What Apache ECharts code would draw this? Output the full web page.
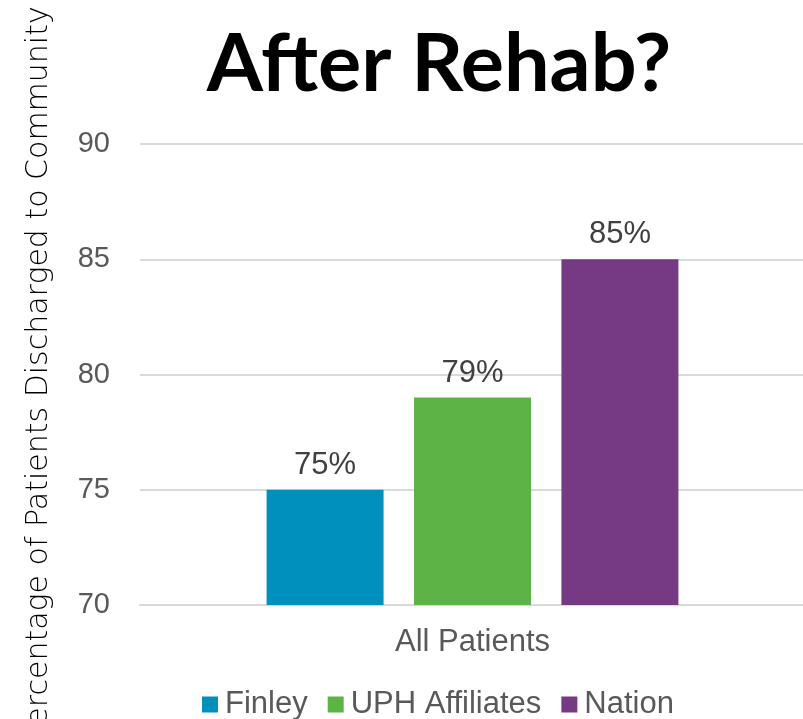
<!DOCTYPE html>
<html>
<head>
    <meta charset="utf-8">
    <title>After Rehab?</title>
    <script src="https://cdn.jsdelivr.net/npm/echarts@6/dist/echarts.min.js"></script>
    <style>
        html, body { margin: 0; padding: 0; background: #fff; }
        #chart1 { width: 803px; height: 719px; }
    </style>
</head>
<body>
<div id="chart1"></div>
<script type="text/javascript">
    // data
    var categories = ['All Patients'];
    var seriesNames = ['Finley', 'UPH Affiliates', 'Nation'];
    var finley = [75];
    var uph = [79];
    var nation = [85];
    var colors = ['#0090bd', '#5db346', '#753a83'];

    var myChart = echarts.init(document.getElementById('chart1'));

    var labelStyle = {
        show: true,
        position: 'top',
        distance: 9,
        formatter: '{c}%',
        fontFamily: 'Liberation Sans, Arial',
        fontSize: 31,
        color: '#404040'
    };

    var option = {
        color: colors,
        title: {
            text: 'After Rehab?',
            left: 434,
            textAlign: 'center',
            top: 19,
            textStyle: {
                fontFamily: 'Lato',
                fontWeight: 'bold',
                fontSize: 81,
                color: '#000'
            }
        },
        legend: {
            data: seriesNames,
            top: 684,
            left: 197,
            itemWidth: 16,
            itemHeight: 16,
            itemGap: 20,
            icon: 'rect',
            textStyle: {
                fontFamily: 'Liberation Sans, Arial',
                fontSize: 31,
                color: '#595959',
                padding: [0, 0, 0, 2]
            }
        },
        grid: {
            left: 140,
            right: -2,
            top: 144,
            bottom: 114,
            containLabel: false,
            outerBoundsMode: 'none'
        },
        xAxis: {
            type: 'category',
            data: categories,
            axisTick: { show: false },
            axisLine: { lineStyle: { color: '#d9d9d9', width: 2 } },
            axisLabel: {
                margin: 22,
                fontFamily: 'Liberation Sans, Arial',
                fontSize: 31,
                color: '#595959'
            }
        },
        yAxis: {
            type: 'value',
            min: 70,
            max: 90,
            interval: 5,
            name: 'Percentage of Patients Discharged to Community',
            nameLocation: 'middle',
            nameGap: 86,
            nameTextStyle: {
                fontFamily: 'DejaVu Sans',
                fontWeight: 200,
                fontSize: 30,
                color: '#000'
            },
            axisLine: { show: false },
            axisTick: { show: false },
            splitLine: { lineStyle: { color: '#d9d9d9', width: 2 } },
            axisLabel: {
                margin: 30,
                fontFamily: 'Liberation Sans, Arial',
                fontSize: 29,
                color: '#595959'
            }
        },
        series: [{
            name: seriesNames[0],
            type: 'bar',
            data: finley,
            barWidth: 117,
            barGap: '26%',
            label: labelStyle
        }, {
            name: seriesNames[1],
            type: 'bar',
            data: uph,
            barWidth: 117,
            barGap: '26%',
            label: labelStyle
        }, {
            name: seriesNames[2],
            type: 'bar',
            data: nation,
            barWidth: 117,
            barGap: '26%',
            label: labelStyle
        }]
    };
    myChart.setOption(option);
</script>
</body>
</html>
